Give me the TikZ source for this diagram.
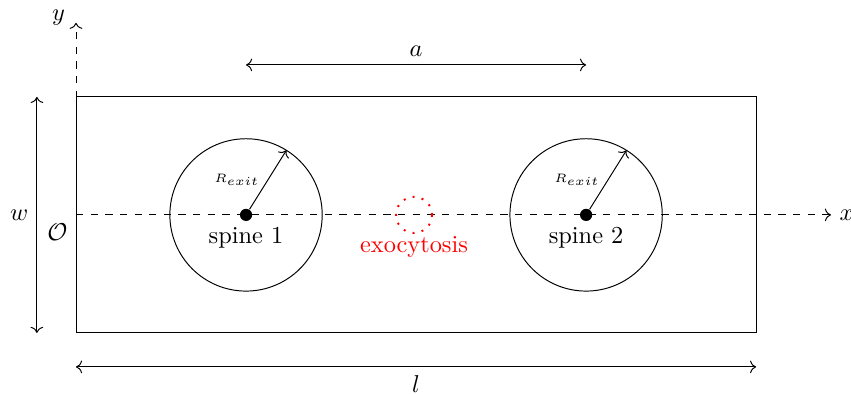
\documentclass[tikz,border=0pt]{standalone}
\usetikzlibrary{arrows.meta, positioning}

\begin{document}
\begin{tikzpicture}[
    x=0.49cm, y=0.49cm,
    spinedot/.style={circle, fill=black, inner sep=0pt, minimum size=5pt},
    axis/.style={dashed, ->},
    dim/.style={<->},
    radius/.style={->},
    exo/.style={circle, draw=red, line width=0.8pt, dash pattern=on 0.8pt off 3pt,
                inner sep=0pt, minimum size=0.52cm}
  ]
    \useasboundingbox (-2.235,-5.265) rectangle (22.79,6.32);

    % domain
    \draw (0,-3.47) rectangle (20,3.47);

    % axes
    \coordinate (O) at (0,0);
    \coordinate (xend) at (22.2,0);
    \coordinate (yend) at (0,5.65);
    \draw[axis] (O) -- (xend) node[right] {$x$};
    \draw[axis] (O) -- (yend) node[left=1pt, yshift=2pt] {$y$};
    \node[below left] at (O) {$\mathcal{O}$};

    % spines
    \node[spinedot] (s1) at (5,0) {};
    \node[spinedot] (s2) at (15,0) {};
    \draw (s1) circle (2.24);
    \draw (s2) circle (2.24);
    \node[below=-1pt of s1] (lab1) {spine 1};
    \node[below=-1pt of s2] (lab2) {spine 2};
    \path (s1) ++(58:2.24) coordinate (r1);
    \path (s2) ++(58:2.24) coordinate (r2);
    \draw[radius] (s1) -- (r1) node[midway, left] {$\scriptscriptstyle R_{exit}$};
    \draw[radius] (s2) -- (r2) node[midway, left] {$\scriptscriptstyle R_{exit}$};

    % exocytosis site
    \node[exo] (ex) at (9.94,0) {};
    \node[below=-2.5pt of ex, text=red] (exlab) {exocytosis};

    % dimensions
    \coordinate (a1) at (5,4.41);
    \coordinate (a2) at (15,4.41);
    \draw[dim] (a1) -- (a2) node[midway, above] {$a$};
    \coordinate (l1) at (0,-4.47);
    \coordinate (l2) at (20,-4.47);
    \draw[dim] (l1) -- (l2) node[midway, below] {$l$};
    \coordinate (w1) at (-1.15,-3.47);
    \coordinate (w2) at (-1.15,3.47);
    \draw[dim] (w1) -- (w2) node[midway, left] {$w$};
  \end{tikzpicture}
\end{document}
